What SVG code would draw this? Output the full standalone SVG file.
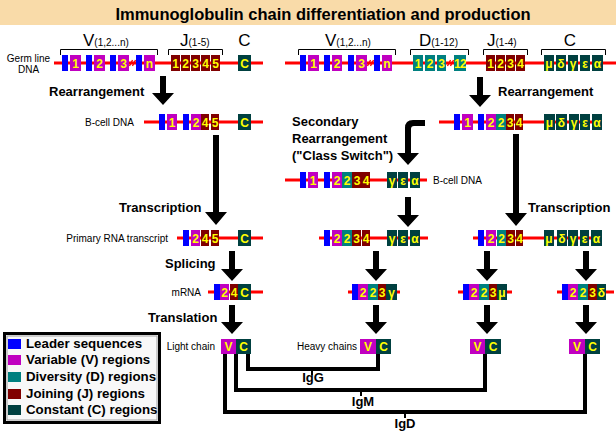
<svg xmlns="http://www.w3.org/2000/svg" width="616" height="434" viewBox="0 0 616 434">
<style>
.L{fill:#0000ff}.V{fill:#c000c0}.D{fill:#008080}.J{fill:#800000}.C{fill:#004040}
.dna{stroke:#ff0000;stroke-width:3;fill:none}
.bt{font-family:"Liberation Sans",Arial,sans-serif;font-weight:bold;font-size:12px;fill:#ffff00;text-anchor:middle}
.sm{font-family:"Liberation Sans",Arial,sans-serif;font-size:10px;fill:#000}
.bl{font-family:"Liberation Sans",Arial,sans-serif;font-weight:bold;font-size:13px;fill:#000}
.big{font-family:"Liberation Sans",Arial,sans-serif;font-size:17px;fill:#000}
.brk{stroke:#000;stroke-width:1;fill:none}
.sl{stroke:#ff0000;stroke-width:1.3;fill:none}
.arr{fill:#000}
.ig{stroke:#000;stroke-width:4;fill:none}
.tk{stroke:#000;stroke-width:2;fill:none}
.lg{font-family:"Liberation Sans",Arial,sans-serif;font-weight:bold;font-size:13.3px;fill:#000}
</style>
<rect width="616" height="434" fill="#ffffff"/>
<g id="title">
<rect x="0" y="0" width="616" height="25" fill="#f9dba9"/>
<text x="323" y="20" font-family="Liberation Sans, Arial, sans-serif" font-weight="bold" font-size="16.5" text-anchor="middle">Immunoglobulin chain differentiation and production</text>
</g>
<g id="germline-light">
<text class="sm" x="28.5" y="62" text-anchor="middle">Germ line</text>
<text class="sm" x="28.5" y="73" text-anchor="middle">DNA</text>
<path class="brk" d="M60.5,55 V49.5 H157.5 V55 M168.5,55 V49.5 H222.5 V55"/>
<text x="83" y="46"><tspan class="big">V</tspan><tspan class="sm" font-size="10.5">(1,2...n)</tspan></text>
<text x="180" y="46"><tspan class="big">J</tspan><tspan class="sm" font-size="10.5">(1-5)</tspan></text>
<text class="big" x="244.5" y="46" text-anchor="middle">C</text>
<line class="dna" x1="54" y1="63" x2="263" y2="63"/>
<rect class="L" x="62" y="55" width="6" height="16"/>
<rect class="V" x="70" y="55" width="11" height="16"/><text class="bt" x="75.5" y="67.5">1</text>
<rect class="L" x="86" y="55" width="6" height="16"/>
<rect class="V" x="94" y="55" width="11" height="16"/><text class="bt" x="99.5" y="67.5">2</text>
<rect class="L" x="110" y="55" width="6" height="16"/>
<rect class="V" x="118" y="55" width="11" height="16"/><text class="bt" x="123.5" y="67.5">3</text>
<path class="sl" d="M129.5,66 L132.5,60 M132.5,66 L135.5,60"/>
<rect class="L" x="136" y="55" width="6" height="16"/>
<rect class="V" x="144" y="55" width="11" height="16"/><text class="bt" x="149.5" y="67.5">n</text>
<rect class="J" x="171" y="55" width="9" height="16"/><text class="bt" x="175.5" y="67.5">1</text>
<rect class="J" x="181" y="55" width="9" height="16"/><text class="bt" x="185.5" y="67.5">2</text>
<rect class="J" x="191" y="55" width="9" height="16"/><text class="bt" x="195.5" y="67.5">3</text>
<rect class="J" x="201" y="55" width="9" height="16"/><text class="bt" x="205.5" y="67.5">4</text>
<rect class="J" x="211" y="55" width="9" height="16"/><text class="bt" x="215.5" y="67.5">5</text>
<rect class="C" x="238" y="55" width="13" height="16"/><text class="bt" x="244.5" y="67.5">C</text>
</g>
<g id="germline-heavy">
<path class="brk" d="M298.5,55 V49.5 H395.5 V55 M410.5,55 V49.5 H468.5 V55 M483.5,55 V49.5 H527.5 V55 M541.5,55 V49.5 H605.5 V55"/>
<text x="325" y="46"><tspan class="big">V</tspan><tspan class="sm" font-size="10.5">(1,2...n)</tspan></text>
<text x="419" y="46"><tspan class="big">D</tspan><tspan class="sm" font-size="10.5">(1-12)</tspan></text>
<text x="487" y="46"><tspan class="big">J</tspan><tspan class="sm" font-size="10.5">(1-4)</tspan></text>
<text class="big" x="570" y="46" text-anchor="middle">C</text>
<line class="dna" x1="285" y1="63" x2="616" y2="63"/>
<rect class="L" x="300" y="55" width="6" height="16"/>
<rect class="V" x="308" y="55" width="11" height="16"/><text class="bt" x="313.5" y="67.5">1</text>
<rect class="L" x="324" y="55" width="6" height="16"/>
<rect class="V" x="332" y="55" width="10" height="16"/><text class="bt" x="337" y="67.5">2</text>
<rect class="L" x="348" y="55" width="6" height="16"/>
<rect class="V" x="356" y="55" width="11" height="16"/><text class="bt" x="361.5" y="67.5">3</text>
<path class="sl" d="M367.5,66 L370.5,60 M370.5,66 L373.5,60"/>
<rect class="L" x="374" y="55" width="6" height="16"/>
<rect class="V" x="382" y="55" width="10" height="16"/><text class="bt" x="387" y="67.5">n</text>
<rect class="D" x="413" y="55" width="10" height="16"/><text class="bt" x="418" y="67.5">1</text>
<rect class="D" x="425" y="55" width="10" height="16"/><text class="bt" x="430" y="67.5">2</text>
<rect class="D" x="437" y="55" width="9" height="16"/><text class="bt" x="441.5" y="67.5">3</text>
<path class="sl" d="M447.5,66 L450.5,60 M450.5,66 L453.5,60"/>
<rect class="D" x="454" y="55" width="12" height="16"/><text class="bt" x="460" y="67.5" font-size="11" letter-spacing="-0.6">12</text>
<rect class="J" x="486" y="55" width="9" height="16"/><text class="bt" x="490.5" y="67.5">1</text>
<rect class="J" x="496" y="55" width="9" height="16"/><text class="bt" x="500.5" y="67.5">2</text>
<rect class="J" x="506" y="55" width="9" height="16"/><text class="bt" x="510.5" y="67.5">3</text>
<rect class="J" x="516" y="55" width="9" height="16"/><text class="bt" x="520.5" y="67.5">4</text>
<rect class="C" x="544" y="55" width="10" height="16"/><text class="bt" x="549" y="67.5">μ</text>
<rect class="C" x="556" y="55" width="10" height="16"/><text class="bt" x="561" y="67.5">δ</text>
<rect class="C" x="568" y="55" width="10" height="16"/><text class="bt" x="573" y="67.5">γ</text>
<rect class="C" x="580" y="55" width="10" height="16"/><text class="bt" x="585" y="67.5">ε</text>
<rect class="C" x="592" y="55" width="11" height="16"/><text class="bt" x="597.5" y="67.5">α</text>
</g>
<g id="bcell-light">
<text class="sm" x="85" y="126">B-cell DNA</text>
<line class="dna" x1="144" y1="122" x2="263" y2="122"/>
<rect class="L" x="159" y="114" width="6" height="16"/>
<rect class="V" x="167" y="114" width="10" height="16"/><text class="bt" x="172" y="126.5">1</text>
<rect class="L" x="183" y="114" width="6" height="16"/>
<rect class="V" x="191" y="114" width="10" height="16"/><text class="bt" x="196" y="126.5">2</text>
<rect class="J" x="201" y="114" width="8" height="16"/><text class="bt" x="205" y="126.5">4</text>
<rect class="J" x="211" y="114" width="8" height="16"/><text class="bt" x="215" y="126.5">5</text>
<rect class="C" x="238" y="114" width="13" height="16"/><text class="bt" x="244.5" y="126.5">C</text>
</g>
<g id="bcell-heavy">
<line class="dna" x1="439" y1="122" x2="602" y2="122"/>
<rect class="L" x="454" y="114" width="6" height="16"/>
<rect class="V" x="462" y="114" width="11" height="16"/><text class="bt" x="467.5" y="126.5">1</text>
<rect class="L" x="478" y="114" width="6" height="16"/>
<rect class="V" x="486" y="114" width="10" height="16"/><text class="bt" x="491" y="126.5">2</text>
<rect class="D" x="496" y="114" width="10" height="16"/><text class="bt" x="501" y="126.5">2</text>
<rect class="J" x="506" y="114" width="8" height="16"/><text class="bt" x="510" y="126.5">3</text>
<rect class="J" x="515" y="114" width="8" height="16"/><text class="bt" x="519" y="126.5">4</text>
<rect class="C" x="544" y="114" width="11" height="16"/><text class="bt" x="549.5" y="126.5">μ</text>
<rect class="C" x="556" y="114" width="11" height="16"/><text class="bt" x="561.5" y="126.5">δ</text>
<rect class="C" x="569" y="114" width="10" height="16"/><text class="bt" x="574" y="126.5">γ</text>
<rect class="C" x="580" y="114" width="10" height="16"/><text class="bt" x="585" y="126.5">ε</text>
<rect class="C" x="592" y="114" width="10" height="16"/><text class="bt" x="597" y="126.5">α</text>
</g>
<g id="bcell-switched">
<text class="bl" x="292" y="126">Secondary</text>
<text class="bl" x="292" y="143">Rearrangement</text>
<text class="bl" x="292" y="160">("Class Switch")</text>
<line class="dna" x1="285" y1="180" x2="427" y2="180"/>
<rect class="L" x="300" y="172" width="6" height="16"/>
<rect class="V" x="308" y="172" width="10" height="16"/><text class="bt" x="313" y="184.5">1</text>
<rect class="L" x="324" y="172" width="6" height="16"/>
<rect class="V" x="332" y="172" width="10" height="16"/><text class="bt" x="337" y="184.5">2</text>
<rect class="D" x="342" y="172" width="10" height="16"/><text class="bt" x="347" y="184.5">2</text>
<rect class="J" x="352" y="172" width="10" height="16"/><text class="bt" x="357" y="184.5">3</text>
<rect class="J" x="362" y="172" width="8" height="16"/><text class="bt" x="366" y="184.5">4</text>
<rect class="C" x="387" y="172" width="10" height="16"/><text class="bt" x="392" y="184.5">γ</text>
<rect class="C" x="398" y="172" width="10" height="16"/><text class="bt" x="403" y="184.5">ε</text>
<rect class="C" x="410" y="172" width="10" height="16"/><text class="bt" x="415" y="184.5">α</text>
<text class="sm" x="433" y="184">B-cell DNA</text>
</g>
<g id="primary-light">
<text class="sm" x="168" y="242" text-anchor="end">Primary RNA transcript</text>
<line class="dna" x1="177" y1="238" x2="263" y2="238"/>
<rect class="L" x="183" y="230" width="6" height="16"/>
<rect class="V" x="191" y="230" width="9" height="16"/><text class="bt" x="195.5" y="242.5">2</text>
<rect class="J" x="201" y="230" width="8" height="16"/><text class="bt" x="205" y="242.5">4</text>
<rect class="J" x="211" y="230" width="8" height="16"/><text class="bt" x="215" y="242.5">5</text>
<rect class="C" x="238" y="230" width="13" height="16"/><text class="bt" x="244.5" y="242.5">C</text>
</g>
<g id="primary-switched">
<line class="dna" x1="319" y1="238" x2="428" y2="238"/>
<rect class="L" x="324" y="230" width="6" height="16"/>
<rect class="V" x="332" y="230" width="10" height="16"/><text class="bt" x="337" y="242.5">2</text>
<rect class="D" x="342" y="230" width="10" height="16"/><text class="bt" x="347" y="242.5">2</text>
<rect class="J" x="352" y="230" width="9" height="16"/><text class="bt" x="356.5" y="242.5">3</text>
<rect class="J" x="362" y="230" width="8" height="16"/><text class="bt" x="366" y="242.5">4</text>
<rect class="C" x="387" y="230" width="10" height="16"/><text class="bt" x="392" y="242.5">γ</text>
<rect class="C" x="398" y="230" width="10" height="16"/><text class="bt" x="403" y="242.5">ε</text>
<rect class="C" x="410" y="230" width="10" height="16"/><text class="bt" x="415" y="242.5">α</text>
</g>
<g id="primary-heavy">
<line class="dna" x1="473" y1="238" x2="602" y2="238"/>
<rect class="L" x="478" y="230" width="6" height="16"/>
<rect class="V" x="486" y="230" width="10" height="16"/><text class="bt" x="491" y="242.5">2</text>
<rect class="D" x="497" y="230" width="9" height="16"/><text class="bt" x="501.5" y="242.5">2</text>
<rect class="J" x="506" y="230" width="9" height="16"/><text class="bt" x="510.5" y="242.5">3</text>
<rect class="J" x="516" y="230" width="7" height="16"/><text class="bt" x="519.5" y="242.5">4</text>
<rect class="C" x="544" y="230" width="10" height="16"/><text class="bt" x="549" y="242.5">μ</text>
<rect class="C" x="557" y="230" width="10" height="16"/><text class="bt" x="562" y="242.5">δ</text>
<rect class="C" x="568" y="230" width="10" height="16"/><text class="bt" x="573" y="242.5">γ</text>
<rect class="C" x="580" y="230" width="9" height="16"/><text class="bt" x="584.5" y="242.5">ε</text>
<rect class="C" x="591" y="230" width="11" height="16"/><text class="bt" x="596.5" y="242.5">α</text>
</g>
<g id="mrna-light">
<text class="sm" x="201" y="296" text-anchor="end">mRNA</text>
<line class="dna" x1="208" y1="292" x2="263" y2="292"/>
<rect class="L" x="214" y="284" width="6" height="16"/>
<rect class="V" x="220" y="284" width="9" height="16"/><text class="bt" x="224.5" y="296.5">2</text>
<rect class="J" x="230" y="284" width="8" height="16"/><text class="bt" x="234" y="296.5">4</text>
<rect class="C" x="238" y="284" width="13" height="16"/><text class="bt" x="244.5" y="296.5">C</text>
</g>
<g id="mrna-gamma">
<line class="dna" x1="348" y1="292" x2="400" y2="292"/>
<rect class="L" x="352" y="284" width="6" height="16"/>
<rect class="V" x="358" y="284" width="10" height="16"/><text class="bt" x="363" y="296.5">2</text>
<rect class="D" x="368" y="284" width="10" height="16"/><text class="bt" x="373" y="296.5">2</text>
<rect class="J" x="378" y="284" width="8" height="16"/><text class="bt" x="382" y="296.5">3</text>
<rect class="C" x="386" y="284" width="11" height="16"/><text class="bt" x="391.5" y="296.5">γ</text>
</g>
<g id="mrna-mu">
<line class="dna" x1="458" y1="292" x2="512" y2="292"/>
<rect class="L" x="463" y="284" width="6" height="16"/>
<rect class="V" x="469" y="284" width="10" height="16"/><text class="bt" x="474" y="296.5">2</text>
<rect class="D" x="479" y="284" width="10" height="16"/><text class="bt" x="484" y="296.5">2</text>
<rect class="J" x="489" y="284" width="8" height="16"/><text class="bt" x="493" y="296.5">3</text>
<rect class="C" x="497" y="284" width="10" height="16"/><text class="bt" x="502" y="296.5">μ</text>
</g>
<g id="mrna-delta">
<line class="dna" x1="557" y1="292" x2="614" y2="292"/>
<rect class="L" x="562" y="284" width="6" height="16"/>
<rect class="V" x="568" y="284" width="10" height="16"/><text class="bt" x="573" y="296.5">2</text>
<rect class="D" x="578" y="284" width="10" height="16"/><text class="bt" x="583" y="296.5">2</text>
<rect class="J" x="588" y="284" width="9" height="16"/><text class="bt" x="592.5" y="296.5">3</text>
<rect class="C" x="597" y="284" width="9" height="16"/><text class="bt" x="601.5" y="296.5">δ</text>
</g>
<g id="light-chain">
<text class="sm" x="215" y="350" text-anchor="end">Light chain</text>
<rect class="V" x="221" y="339" width="15" height="15"/><text class="bt" x="228.5" y="351">V</text>
<rect class="C" x="236" y="339" width="15" height="15"/><text class="bt" x="243.5" y="351">C</text>
</g>
<g id="heavy-gamma">
<text class="sm" x="357" y="350" text-anchor="end">Heavy chains</text>
<rect class="V" x="360" y="339" width="16" height="15"/><text class="bt" x="368" y="351">V</text>
<rect class="C" x="376" y="339" width="15" height="15"/><text class="bt" x="383.5" y="351">C</text>
</g>
<g id="heavy-mu">
<rect class="V" x="470" y="339" width="15" height="15"/><text class="bt" x="477.5" y="351">V</text>
<rect class="C" x="485" y="339" width="16" height="15"/><text class="bt" x="493" y="351">C</text>
</g>
<g id="heavy-delta">
<rect class="V" x="569" y="339" width="16" height="15"/><text class="bt" x="577" y="351">V</text>
<rect class="C" x="585" y="339" width="15" height="15"/><text class="bt" x="592.5" y="351">C</text>
</g>
<g id="step-labels">
<text class="bl" x="49" y="96">Rearrangement</text>
<text class="bl" x="498" y="96">Rearrangement</text>
<text class="bl" x="119" y="212">Transcription</text>
<text class="bl" x="528" y="212">Transcription</text>
<text class="bl" x="165" y="268">Splicing</text>
<text class="bl" x="148" y="322">Translation</text>
</g>
<g id="connectors">
<path class="arr" d="M160,76 H166 V93 H174 L163,105 L152,93 H160 Z"/>
<path class="arr" d="M477,77 H483 V95 H491 L480,107 L469,95 H477 Z"/>
<path class="arr" d="M213,135 H219 V212 H227 L216,225 L205,212 H213 Z"/>
<path class="arr" d="M425,120 H413 Q405,120 405,128 V153 H397 L408,165 L419,153 H411 V129 Q411,126 414,126 H425 Z"/>
<path class="arr" d="M405,197 H411 V215 H419 L408,227 L397,215 H405 Z"/>
<path class="arr" d="M513,134 H519 V213 H527 L516,226 L505,213 H513 Z"/>
<path class="arr" d="M229,251 H235 V269 H243 L232,281 L221,269 H229 Z"/>
<path class="arr" d="M373,251 H379 V269 H387 L376,281 L365,269 H373 Z"/>
<path class="arr" d="M484,251 H490 V269 H498 L487,281 L476,269 H484 Z"/>
<path class="arr" d="M583,251 H589 V269 H597 L586,281 L575,269 H583 Z"/>
<path class="arr" d="M229,305 H235 V322 H243 L232,334 L221,322 H229 Z"/>
<path class="arr" d="M373,305 H379 V322 H387 L376,334 L365,322 H373 Z"/>
<path class="arr" d="M484,305 H490 V322 H498 L487,334 L476,322 H484 Z"/>
<path class="arr" d="M583,305 H589 V322 H597 L586,334 L575,322 H583 Z"/>
<path class="ig" d="M248,354 V369 H378 V354"/>
<path class="ig" d="M236,354 V390 H485 V354"/>
<path class="ig" d="M225,354 V412 H585 V354"/>
<path class="tk" d="M312,369 V375 M361,390 V396 M405,412 V418"/>
<text class="bl" x="313" y="382" text-anchor="middle">IgG</text>
<text class="bl" x="363" y="406" text-anchor="middle">IgM</text>
<text class="bl" x="405" y="428" text-anchor="middle">IgD</text>
</g>
<g id="legend">
<rect x="4.5" y="333.5" width="155" height="89" fill="#f8f8f8" stroke="#000" stroke-width="3"/>
<rect x="7" y="336" width="150" height="84" fill="none" stroke="#a0a0a0" stroke-width="1"/>
<rect class="L" x="8" y="339" width="13" height="10"/><text class="lg" x="26" y="348">Leader sequences</text>
<rect class="V" x="8" y="355" width="13" height="10"/><text class="lg" x="26" y="364">Variable (V) regions</text>
<rect class="D" x="8" y="372" width="13" height="10"/><text class="lg" x="26" y="381">Diversity (D) regions</text>
<rect class="J" x="8" y="389" width="13" height="10"/><text class="lg" x="26" y="398">Joining (J) regions</text>
<rect class="C" x="8" y="405" width="13" height="10"/><text class="lg" x="26" y="414">Constant (C) regions</text>
</g>
</svg>
